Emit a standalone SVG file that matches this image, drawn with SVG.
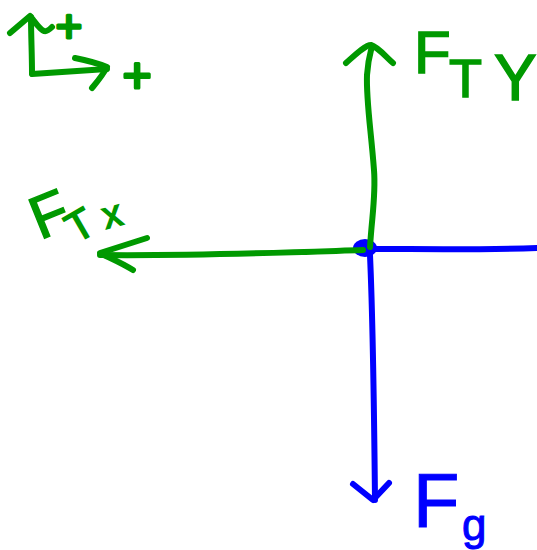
<svg xmlns="http://www.w3.org/2000/svg" width="537" height="550" viewBox="0 0 537 550">
<style>
.g{fill:none;stroke:#009900;stroke-width:6;stroke-linecap:round;stroke-linejoin:round}
.b{fill:none;stroke:#0000ff;stroke-width:6;stroke-linecap:round;stroke-linejoin:round}
.tg{font-family:"Liberation Sans",Arial,sans-serif;fill:#009900;stroke:#009900;stroke-width:1.5}
.tb{font-family:"Liberation Sans",Arial,sans-serif;fill:#0000ff;stroke:#0000ff;stroke-width:1}
.pl{stroke-width:3;stroke-linejoin:round}
</style>
<rect width="537" height="550" fill="#ffffff"/>
<g id="axes-key">
<path class="g" d="M32,73 C32,55 31,35 31,17"/>
<path class="g" d="M10,33 L30,16 C35,22 40,30 44,31 C47,32 50,29 52,27"/>
<path class="g" d="M32,74 L107,69"/>
<path class="g" d="M75,58 C85,60 97,63 107,67 C103,75 97,82 92,88"/>
<text class="tg pl" x="69" y="42" font-size="46" text-anchor="middle">+</text>
<text class="tg pl" x="137" y="92" font-size="50" text-anchor="middle">+</text>
</g>
<g id="connectors">
<path class="b" d="M376,249 C420,249 480,250 537,248"/>
<path class="b" d="M370,255 C372,300 374,400 375,500"/>
<path class="b" d="M353,484 L373,500 L389,483"/>
</g>
<g id="point">
<ellipse cx="365" cy="248" rx="12" ry="9" fill="#0000ff"/>
</g>
<g id="connectors-green">
<path class="g" d="M370,247 C372,215 376,195 374,170 C371,130 366,100 367,75 C368,60 371,50 372,46"/>
<path class="g" d="M346,63 C355,55 365,45 371,45 C378,47 386,57 393,63"/>
<path class="g" d="M363,250 C300,252 200,256 100,255"/>
<path class="g" d="M147,238 L100,253 C110,258 122,263 133,270"/>
</g>
<g id="label-FTY">
<text class="tg" x="414" y="73" font-size="60">F</text>
<text class="tg" x="449" y="97" font-size="54">T</text>
<text class="tg" x="494" y="100" font-size="64">Y</text>
</g>
<g id="label-FTx">
<text class="tg" font-size="60" transform="translate(40,240) rotate(-22)">F</text>
<text class="tg" font-size="42" transform="translate(76,244) rotate(-30)">T</text>
<text class="tg" font-size="38" transform="translate(106,229) rotate(-15)">x</text>
</g>
<g id="label-Fg">
<text class="tb" x="413" y="527" font-size="76">F</text>
<text class="tb" x="462" y="540" font-size="44">g</text>
</g>
</svg>
